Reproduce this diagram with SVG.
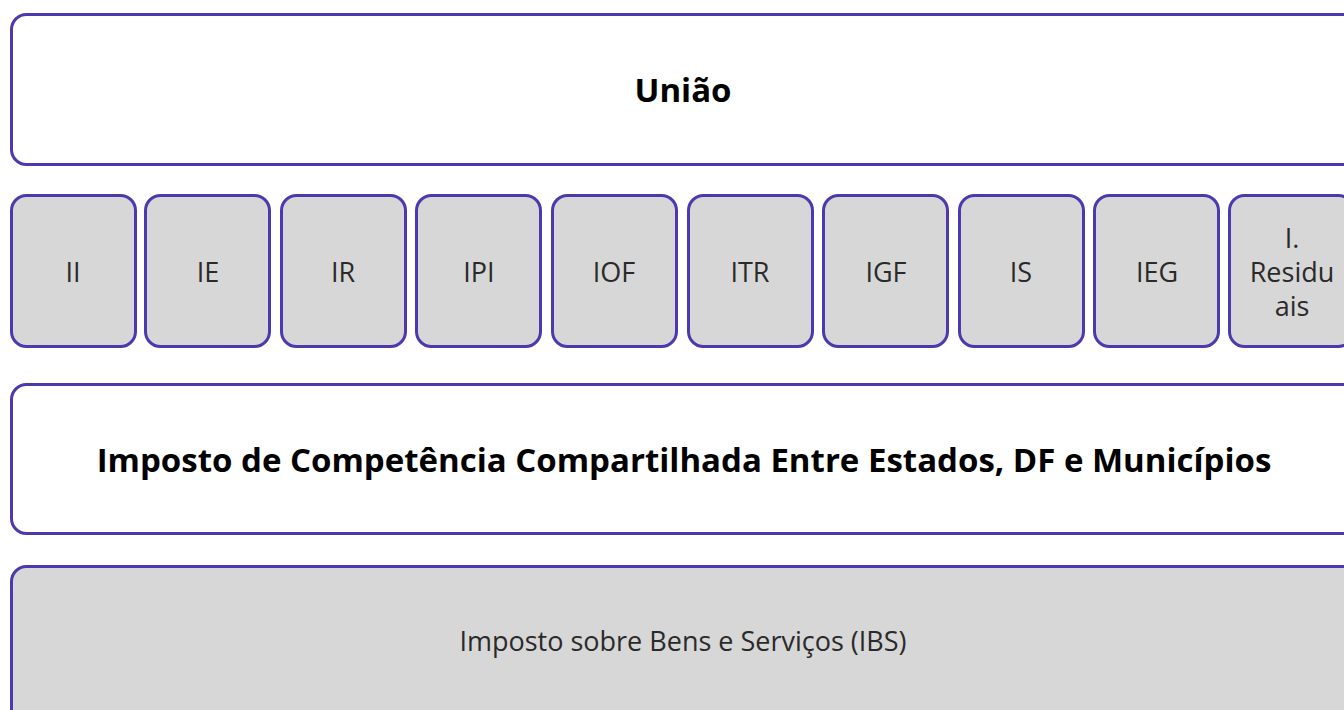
<svg xmlns="http://www.w3.org/2000/svg" width="1344" height="710" viewBox="0 0 1344 710">
<style>
.b{stroke:#4B3AAE;stroke-width:3}
.w{fill:#FFFFFF}
.g{fill:#D7D7D7}
.t{font-family:"Open Sans","Liberation Sans",sans-serif;fill:#2a2a2a;text-anchor:middle;dominant-baseline:central}
.s{font-size:27px}
.h{font-size:33px;font-weight:bold;fill:#000}
</style>
<rect width="1344" height="710" fill="#fff"/>
<g id="uniao"><rect class="b w" x="11.5" y="14.5" width="1350" height="150" rx="15"/><text class="t h" x="683" y="89">União</text></g>
<g id="II"><rect class="b g" x="11.5" y="195.5" width="124" height="151" rx="15"/><text class="t s" x="73" y="271">II</text></g>
<g id="IE"><rect class="b g" x="145.5" y="195.5" width="124" height="151" rx="15"/><text class="t s" x="208" y="271">IE</text></g>
<g id="IR"><rect class="b g" x="281.5" y="195.5" width="124" height="151" rx="15"/><text class="t s" x="343" y="271">IR</text></g>
<g id="IPI"><rect class="b g" x="416.5" y="195.5" width="124" height="151" rx="15"/><text class="t s" x="479" y="271">IPI</text></g>
<g id="IOF"><rect class="b g" x="552.5" y="195.5" width="124" height="151" rx="15"/><text class="t s" x="614" y="271">IOF</text></g>
<g id="ITR"><rect class="b g" x="688.5" y="195.5" width="124" height="151" rx="15"/><text class="t s" x="750" y="271">ITR</text></g>
<g id="IGF"><rect class="b g" x="823.5" y="195.5" width="124" height="151" rx="15"/><text class="t s" x="886" y="271">IGF</text></g>
<g id="IS"><rect class="b g" x="959.5" y="195.5" width="124" height="151" rx="15"/><text class="t s" x="1021" y="271">IS</text></g>
<g id="IEG"><rect class="b g" x="1094.5" y="195.5" width="124" height="151" rx="15"/><text class="t s" x="1157" y="271">IEG</text></g>
<g id="IResiduais"><rect class="b g" x="1229.5" y="195.5" width="124" height="151" rx="15"/><text class="t s" x="1292" y="237">I.</text><text class="t s" x="1292" y="271">Residu</text><text class="t s" x="1292" y="305">ais</text></g>
<g id="compartilhada"><rect class="b w" x="11.5" y="384.5" width="1350" height="149" rx="15"/><text class="t h" x="684" y="459">Imposto de Competência Compartilhada Entre Estados, DF e Municípios</text></g>
<g id="ibs"><rect class="b g" x="11.5" y="566.5" width="1350" height="170" rx="15"/><text class="t s" x="683" y="640">Imposto sobre Bens e Serviços (IBS)</text></g>
<g id="connectors"></g>
</svg>
